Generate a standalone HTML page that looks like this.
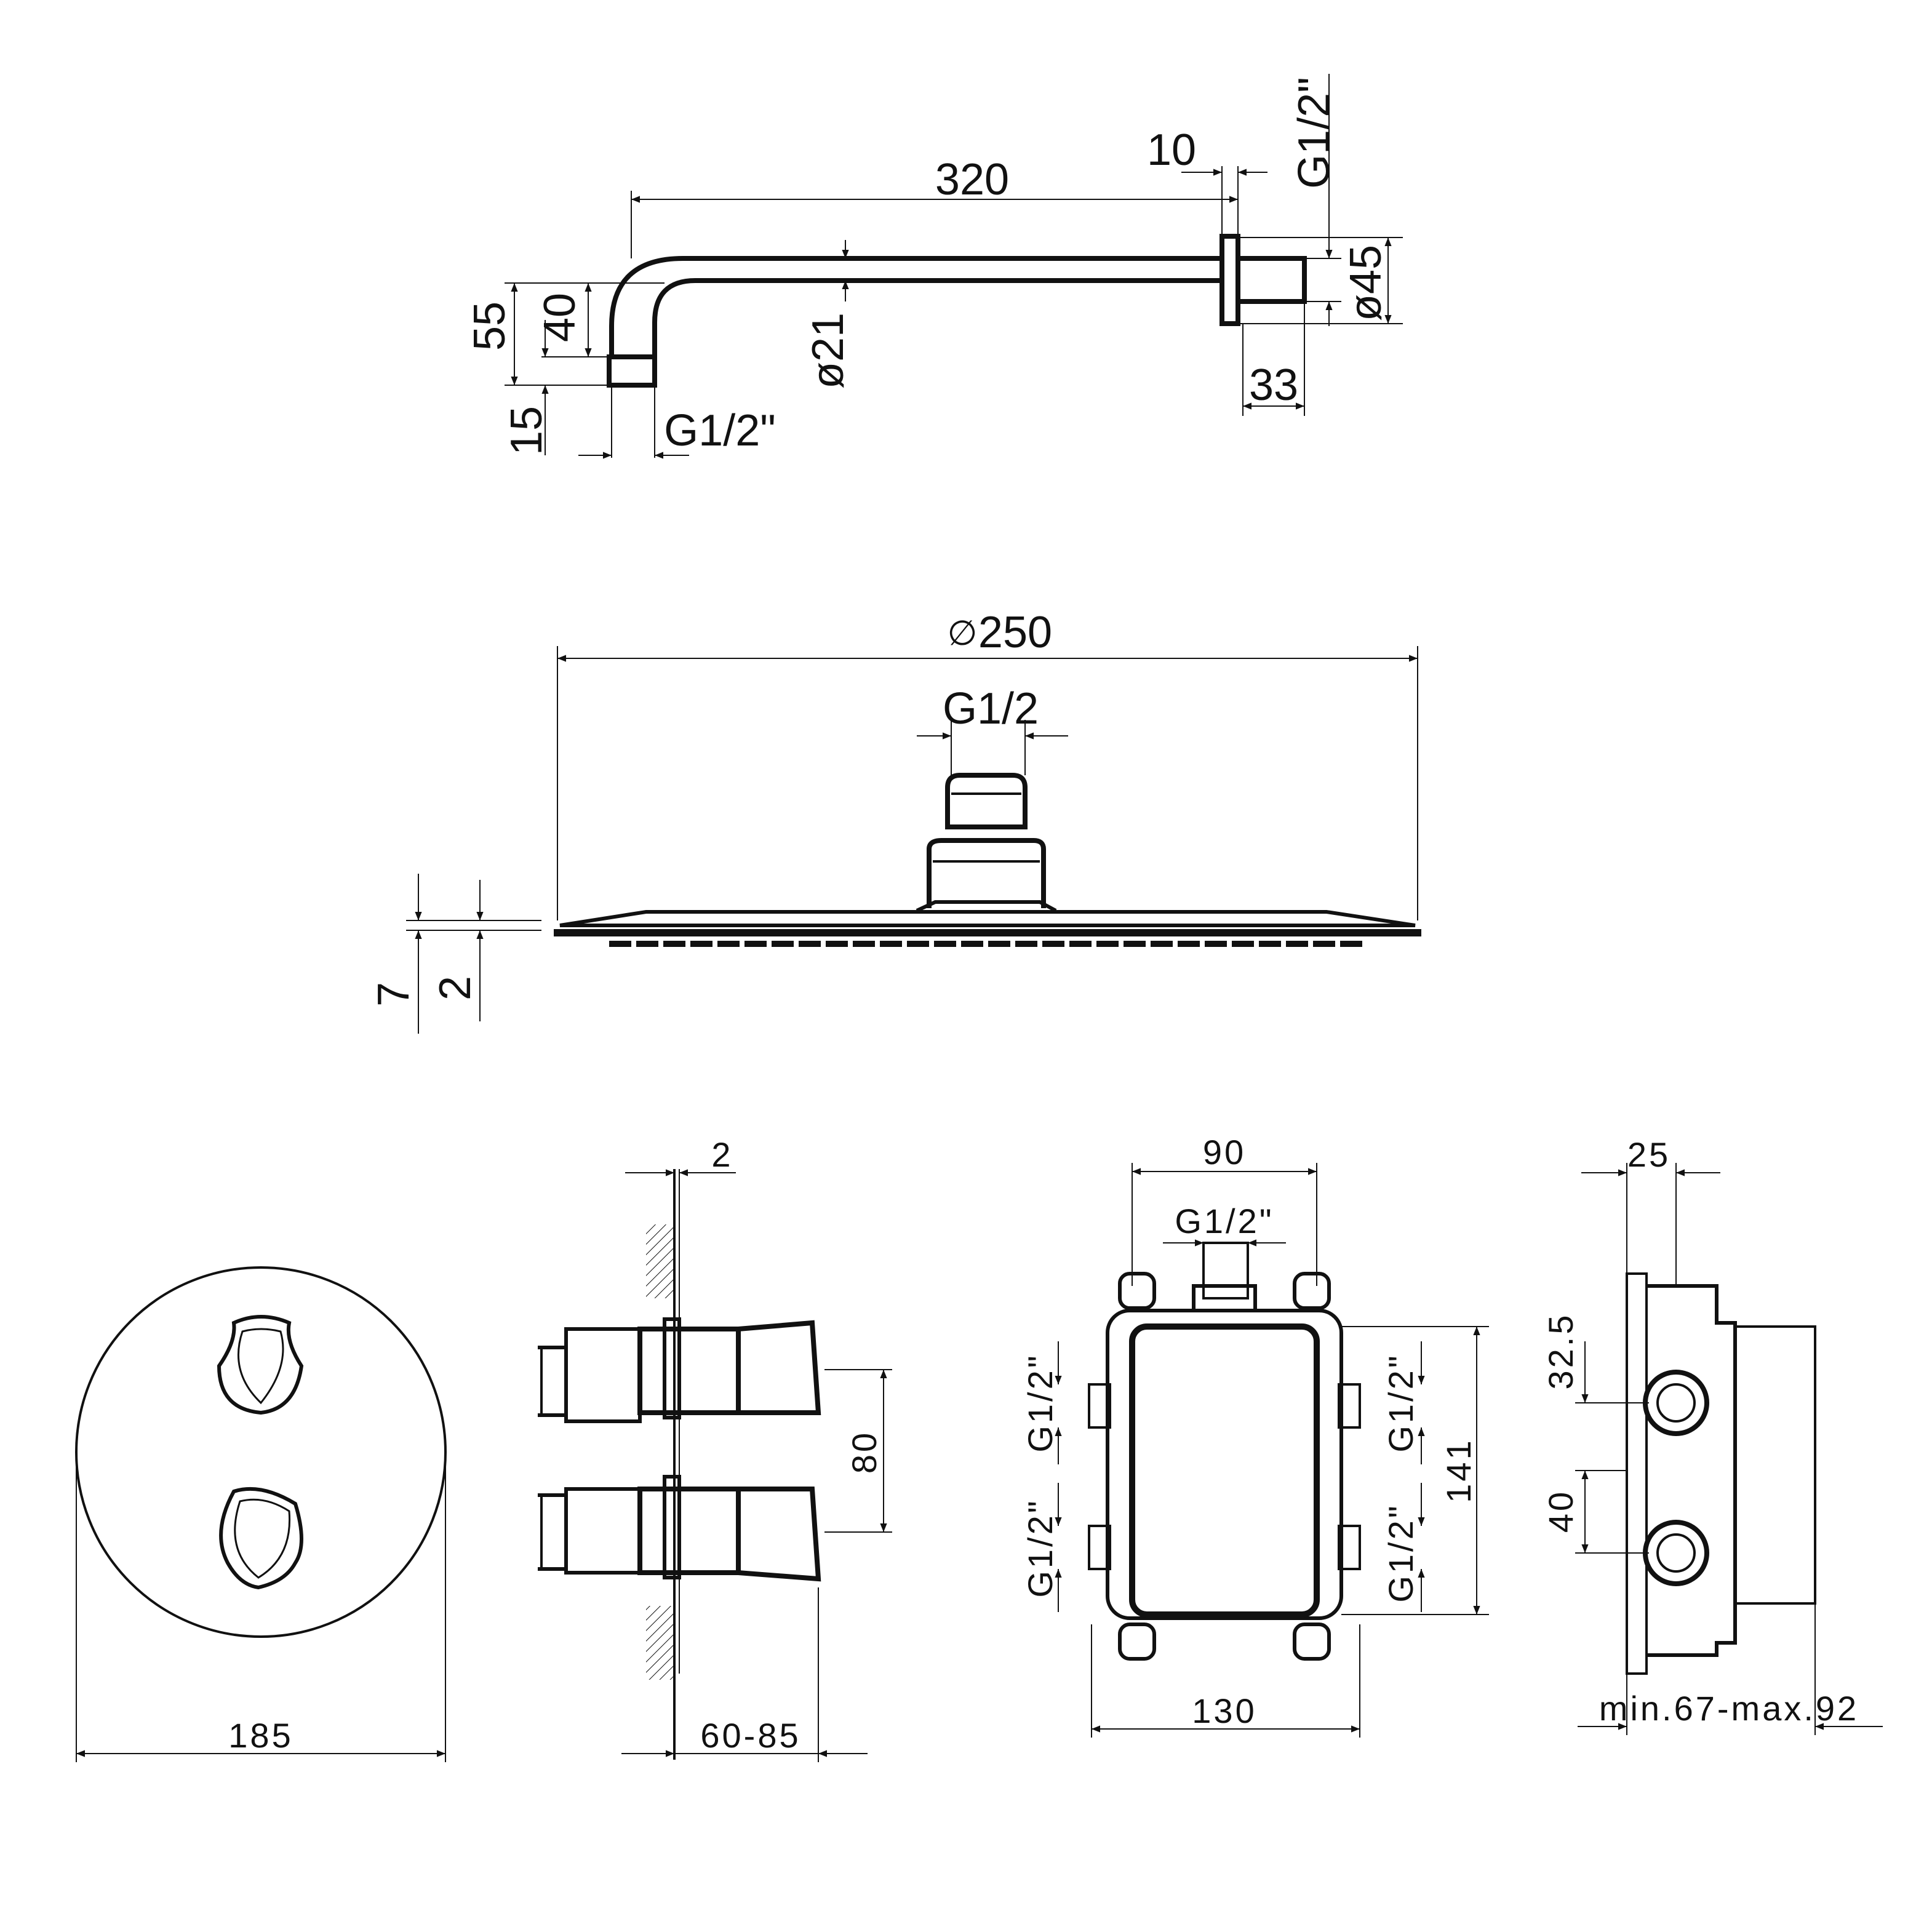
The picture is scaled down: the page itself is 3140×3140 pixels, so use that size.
<!DOCTYPE html>
<html><head><meta charset="utf-8"><style>
html,body{margin:0;padding:0;background:#fff}
svg{display:block}
text{font-family:"Liberation Sans",sans-serif;fill:#111}
</style></head><body>
<svg width="3140" height="3140" viewBox="0 0 1570 1570" xmlns="http://www.w3.org/2000/svg">
<defs>
<marker id="a" viewBox="0 0 10 10" refX="10" refY="5" markerWidth="15" markerHeight="7" orient="auto-start-reverse" markerUnits="userSpaceOnUse"><path d="M0,1 L10,5 L0,9z" fill="#111"/></marker>
<pattern id="h" width="6" height="6" patternUnits="userSpaceOnUse" patternTransform="rotate(45)"><line x1="0" y1="0" x2="0" y2="6" stroke="#111" stroke-width="1"/></pattern>
</defs>
<g fill="none" stroke="#111" stroke-width="1">
<path d="M497,290 L497,265 Q497,210 555,210 L993,210" stroke-width="4"/>
<path d="M532,290 L532,262 Q532,228 565,228 L993,228" stroke-width="4"/>
<rect x="495" y="290" width="37" height="23" stroke-width="4"/>
<rect x="993" y="192" width="13" height="71" stroke-width="4"/>
<rect x="1006" y="210" width="54" height="35" stroke-width="4"/>
<line x1="513" y1="162" x2="1006" y2="162" marker-start="url(#a)" marker-end="url(#a)"/>
<line x1="513" y1="155" x2="513" y2="210"/>
<line x1="1006" y1="135" x2="1006" y2="192"/>
<line x1="993" y1="135" x2="993" y2="192"/>
<line x1="960" y1="140" x2="993" y2="140" marker-end="url(#a)"/>
<line x1="1030" y1="140" x2="1006" y2="140" marker-end="url(#a)"/>
<line x1="1080" y1="60" x2="1080" y2="210" marker-end="url(#a)"/>
<line x1="1080" y1="265" x2="1080" y2="245" marker-end="url(#a)"/>
<line x1="1060" y1="210" x2="1090" y2="210"/><line x1="1060" y1="245" x2="1090" y2="245"/>
<line x1="1008" y1="193" x2="1140" y2="193"/><line x1="1008" y1="263" x2="1140" y2="263"/>
<line x1="1128" y1="193" x2="1128" y2="263" marker-start="url(#a)" marker-end="url(#a)"/>
<line x1="1010" y1="263" x2="1010" y2="338"/><line x1="1060" y1="245" x2="1060" y2="338"/>
<line x1="1010" y1="330" x2="1060" y2="330" marker-start="url(#a)" marker-end="url(#a)"/>
<line x1="687" y1="195" x2="687" y2="210" marker-end="url(#a)"/>
<line x1="687" y1="245" x2="687" y2="228" marker-end="url(#a)"/>
<line x1="410" y1="230" x2="540" y2="230"/>
<line x1="410" y1="313" x2="495" y2="313"/>
<line x1="440" y1="290" x2="495" y2="290"/>
<line x1="418" y1="230" x2="418" y2="313" marker-start="url(#a)" marker-end="url(#a)"/>
<line x1="478" y1="230" x2="478" y2="290" marker-start="url(#a)" marker-end="url(#a)"/>
<line x1="443" y1="260" x2="443" y2="290" marker-end="url(#a)"/>
<line x1="443" y1="370" x2="443" y2="313" marker-end="url(#a)"/>
<line x1="497" y1="313" x2="497" y2="372"/><line x1="532" y1="313" x2="532" y2="372"/>
<line x1="470" y1="370" x2="497" y2="370" marker-end="url(#a)"/>
<line x1="560" y1="370" x2="532" y2="370" marker-end="url(#a)"/>
<line x1="453" y1="535" x2="1152" y2="535" marker-start="url(#a)" marker-end="url(#a)"/>
<line x1="453" y1="525" x2="453" y2="748"/><line x1="1152" y1="525" x2="1152" y2="748"/>
<line x1="745" y1="598" x2="773" y2="598" marker-end="url(#a)"/>
<line x1="868" y1="598" x2="833" y2="598" marker-end="url(#a)"/>
<line x1="773" y1="585" x2="773" y2="630"/><line x1="833" y1="585" x2="833" y2="630"/>
<path d="M770,672 L770,640 Q770,630 780,630 L823,630 Q833,630 833,640 L833,672 Z" stroke-width="4"/>
<line x1="773" y1="645" x2="830" y2="645" stroke-width="2"/>
<path d="M755,738 L755,690 Q755,683 765,683 L840,683 Q848,683 848,690 L848,738" stroke-width="4"/>
<line x1="758" y1="700" x2="845" y2="700" stroke-width="2"/>
<path d="M745,740 L760,733 L845,733 L858,740" stroke-width="3"/>
<path d="M525,741 L1078,741 L1150,752 L455,752 Z" stroke-width="3"/>
<line x1="450" y1="758" x2="1155" y2="758" stroke-width="6"/>
<line x1="495" y1="767" x2="1108" y2="767" stroke-width="5" stroke-dasharray="18,4"/>
<line x1="330" y1="748" x2="440" y2="748"/><line x1="330" y1="756" x2="440" y2="756"/>
<line x1="340" y1="710" x2="340" y2="748" marker-end="url(#a)"/>
<line x1="340" y1="840" x2="340" y2="756" marker-end="url(#a)"/>
<line x1="390" y1="715" x2="390" y2="748" marker-end="url(#a)"/>
<line x1="390" y1="830" x2="390" y2="756" marker-end="url(#a)"/>
<circle cx="212" cy="1180" r="150" stroke-width="2"/>
<path d="M190,1075 Q212,1065 235,1075 Q232,1090 245,1110 Q240,1145 212,1148 Q178,1145 178,1110 Q192,1090 190,1075Z" stroke-width="3"/>
<path d="M197,1082 Q212,1078 228,1082 Q236,1110 212,1140 Q186,1115 197,1082Z" stroke-width="1.5"/>
<path d="M190,1212 Q212,1205 240,1222 Q250,1255 240,1270 Q232,1285 210,1290 Q195,1288 185,1270 Q172,1245 190,1212Z" stroke-width="3"/>
<path d="M195,1220 Q215,1215 235,1228 Q238,1265 210,1282 Q182,1260 195,1220Z" stroke-width="1.5"/>
<line x1="62" y1="1190" x2="62" y2="1432"/><line x1="362" y1="1190" x2="362" y2="1432"/>
<line x1="62" y1="1425" x2="362" y2="1425" marker-start="url(#a)" marker-end="url(#a)"/>
<rect x="525" y="995" width="22" height="60" fill="url(#h)" stroke="none"/>
<rect x="525" y="1305" width="22" height="60" fill="url(#h)" stroke="none"/>
<line x1="548" y1="950" x2="548" y2="1430" stroke-width="2"/>
<line x1="552" y1="950" x2="552" y2="1360" stroke-width="1"/>
<line x1="508" y1="953" x2="548" y2="953" marker-end="url(#a)"/>
<line x1="598" y1="953" x2="552" y2="953" marker-end="url(#a)"/>
<rect x="540" y="1072" width="12" height="80" stroke-width="3"/>
<rect x="540" y="1200" width="12" height="82" stroke-width="3"/>
<rect x="520" y="1080" width="80" height="68" stroke-width="4"/>
<rect x="520" y="1210" width="80" height="68" stroke-width="4"/>
<path d="M600,1080 L660,1075 L665,1148 L600,1148" stroke-width="4"/>
<path d="M600,1210 L660,1210 L665,1283 L600,1278" stroke-width="4"/>
<rect x="460" y="1080" width="60" height="75" stroke-width="3"/>
<rect x="460" y="1210" width="60" height="68" stroke-width="3"/>
<line x1="437" y1="1095" x2="460" y2="1095" stroke-width="3"/><line x1="437" y1="1150" x2="460" y2="1150" stroke-width="3"/>
<line x1="437" y1="1215" x2="460" y2="1215" stroke-width="3"/><line x1="437" y1="1275" x2="460" y2="1275" stroke-width="3"/>
<line x1="440" y1="1095" x2="440" y2="1150" stroke-width="2"/><line x1="440" y1="1215" x2="440" y2="1275" stroke-width="2"/>
<line x1="670" y1="1113" x2="725" y2="1113"/><line x1="670" y1="1245" x2="725" y2="1245"/>
<line x1="718" y1="1113" x2="718" y2="1245" marker-start="url(#a)" marker-end="url(#a)"/>
<line x1="665" y1="1290" x2="665" y2="1432"/>
<line x1="505" y1="1425" x2="548" y2="1425" marker-end="url(#a)"/>
<line x1="705" y1="1425" x2="665" y2="1425" marker-end="url(#a)"/>
<line x1="548" y1="1425" x2="665" y2="1425"/>
<rect x="900" y="1065" width="190" height="250" rx="18" stroke-width="3"/>
<rect x="920" y="1078" width="150" height="234" rx="12" stroke-width="5"/>
<rect x="978" y="1010" width="36" height="45" stroke-width="2"/>
<rect x="970" y="1045" width="50" height="20" stroke-width="3"/>
<rect x="910" y="1035" width="28" height="28" rx="8" stroke-width="3"/>
<rect x="1052" y="1035" width="28" height="28" rx="8" stroke-width="3"/>
<rect x="910" y="1320" width="28" height="28" rx="8" stroke-width="3"/>
<rect x="1052" y="1320" width="28" height="28" rx="8" stroke-width="3"/>
<rect x="885" y="1125" width="17" height="35" stroke-width="2"/>
<rect x="885" y="1240" width="17" height="35" stroke-width="2"/>
<rect x="1088" y="1125" width="17" height="35" stroke-width="2"/>
<rect x="1088" y="1240" width="17" height="35" stroke-width="2"/>
<line x1="920" y1="945" x2="920" y2="1045"/><line x1="1070" y1="945" x2="1070" y2="1045"/>
<line x1="920" y1="952" x2="1070" y2="952" marker-start="url(#a)" marker-end="url(#a)"/>
<line x1="945" y1="1010" x2="978" y2="1010" marker-end="url(#a)"/>
<line x1="1045" y1="1010" x2="1014" y2="1010" marker-end="url(#a)"/>
<line x1="887" y1="1320" x2="887" y2="1412"/><line x1="1105" y1="1320" x2="1105" y2="1412"/>
<line x1="887" y1="1405" x2="1105" y2="1405" marker-start="url(#a)" marker-end="url(#a)"/>
<line x1="1090" y1="1078" x2="1210" y2="1078"/><line x1="1090" y1="1312" x2="1210" y2="1312"/>
<line x1="1200" y1="1078" x2="1200" y2="1312" marker-start="url(#a)" marker-end="url(#a)"/>
<line x1="860" y1="1090" x2="860" y2="1125" marker-end="url(#a)"/><line x1="860" y1="1190" x2="860" y2="1160" marker-end="url(#a)"/>
<line x1="860" y1="1205" x2="860" y2="1240" marker-end="url(#a)"/><line x1="860" y1="1310" x2="860" y2="1275" marker-end="url(#a)"/>
<line x1="1155" y1="1090" x2="1155" y2="1125" marker-end="url(#a)"/><line x1="1155" y1="1190" x2="1155" y2="1160" marker-end="url(#a)"/>
<line x1="1155" y1="1205" x2="1155" y2="1240" marker-end="url(#a)"/><line x1="1155" y1="1310" x2="1155" y2="1275" marker-end="url(#a)"/>
<rect x="1322" y="1035" width="16" height="325" stroke-width="2"/>
<path d="M1338,1045 L1395,1045 L1395,1075 L1410,1075 L1410,1335 L1395,1335 L1395,1345 L1338,1345" stroke-width="3"/>
<rect x="1410" y="1078" width="65" height="225" stroke-width="2"/>
<circle cx="1362" cy="1140" r="25" stroke-width="4"/><circle cx="1362" cy="1140" r="15" stroke-width="2"/>
<circle cx="1362" cy="1262" r="25" stroke-width="4"/><circle cx="1362" cy="1262" r="15" stroke-width="2"/>
<line x1="1322" y1="945" x2="1322" y2="1035"/><line x1="1362" y1="945" x2="1362" y2="1045"/>
<line x1="1285" y1="953" x2="1322" y2="953" marker-end="url(#a)"/>
<line x1="1398" y1="953" x2="1362" y2="953" marker-end="url(#a)"/>
<line x1="1280" y1="1140" x2="1340" y2="1140"/><line x1="1280" y1="1195" x2="1322" y2="1195"/><line x1="1280" y1="1262" x2="1340" y2="1262"/>
<line x1="1288" y1="1090" x2="1288" y2="1140" marker-end="url(#a)"/>
<line x1="1288" y1="1195" x2="1288" y2="1262" marker-start="url(#a)" marker-end="url(#a)"/>
<line x1="1322" y1="1360" x2="1322" y2="1410"/><line x1="1475" y1="1303" x2="1475" y2="1410"/>
<line x1="1282" y1="1403" x2="1322" y2="1403" marker-end="url(#a)"/>
<line x1="1530" y1="1403" x2="1475" y2="1403" marker-end="url(#a)"/>
</g>
<g font-size="36">
<text x="790" y="158" text-anchor="middle">320</text>
<text x="952" y="134" text-anchor="middle">10</text>
<text transform="translate(1080,108) rotate(-90)" text-anchor="middle">G1/2"</text>
<text transform="translate(1122,230) rotate(-90)" text-anchor="middle">ø45</text>
<text x="1035" y="325" text-anchor="middle">33</text>
<text transform="translate(685,285) rotate(-90)" text-anchor="middle">ø21</text>
<text transform="translate(410,265) rotate(-90)" text-anchor="middle">55</text>
<text transform="translate(467,258) rotate(-90)" text-anchor="middle">40</text>
<text transform="translate(440,350) rotate(-90)" text-anchor="middle">15</text>
<text x="585" y="362" text-anchor="middle">G1/2"</text>
<text x="825" y="526" text-anchor="middle">250</text>
<text x="782" y="524" font-size="28" text-anchor="middle" fill="#777">∅</text>
<text x="805" y="588" text-anchor="middle">G1/2</text>
<text transform="translate(332,808) rotate(-90)" text-anchor="middle">7</text>
<text transform="translate(382,803) rotate(-90)" text-anchor="middle">2</text>
</g>
<g font-size="28" letter-spacing="2">
<text x="212" y="1420" text-anchor="middle">185</text>
<text x="587" y="948" text-anchor="middle">2</text>
<text transform="translate(712,1180) rotate(-90)" text-anchor="middle">80</text>
<text x="610" y="1420" text-anchor="middle">60-85</text>
<text x="995" y="946" text-anchor="middle">90</text>
<text x="995" y="1002" text-anchor="middle">G1/2"</text>
<text x="995" y="1400" text-anchor="middle">130</text>
<text transform="translate(1195,1195) rotate(-90)" text-anchor="middle">141</text>
<text transform="translate(855,1140) rotate(-90)" text-anchor="middle">G1/2"</text>
<text transform="translate(855,1258) rotate(-90)" text-anchor="middle">G1/2"</text>
<text transform="translate(1148,1140) rotate(-90)" text-anchor="middle">G1/2"</text>
<text transform="translate(1148,1262) rotate(-90)" text-anchor="middle">G1/2"</text>
<text x="1340" y="948" text-anchor="middle">25</text>
<text transform="translate(1278,1098) rotate(-90)" text-anchor="middle">32.5</text>
<text transform="translate(1278,1228) rotate(-90)" text-anchor="middle">40</text>
<text x="1405" y="1398" text-anchor="middle">min.67-max.92</text>
</g>
</svg>
</body></html>
